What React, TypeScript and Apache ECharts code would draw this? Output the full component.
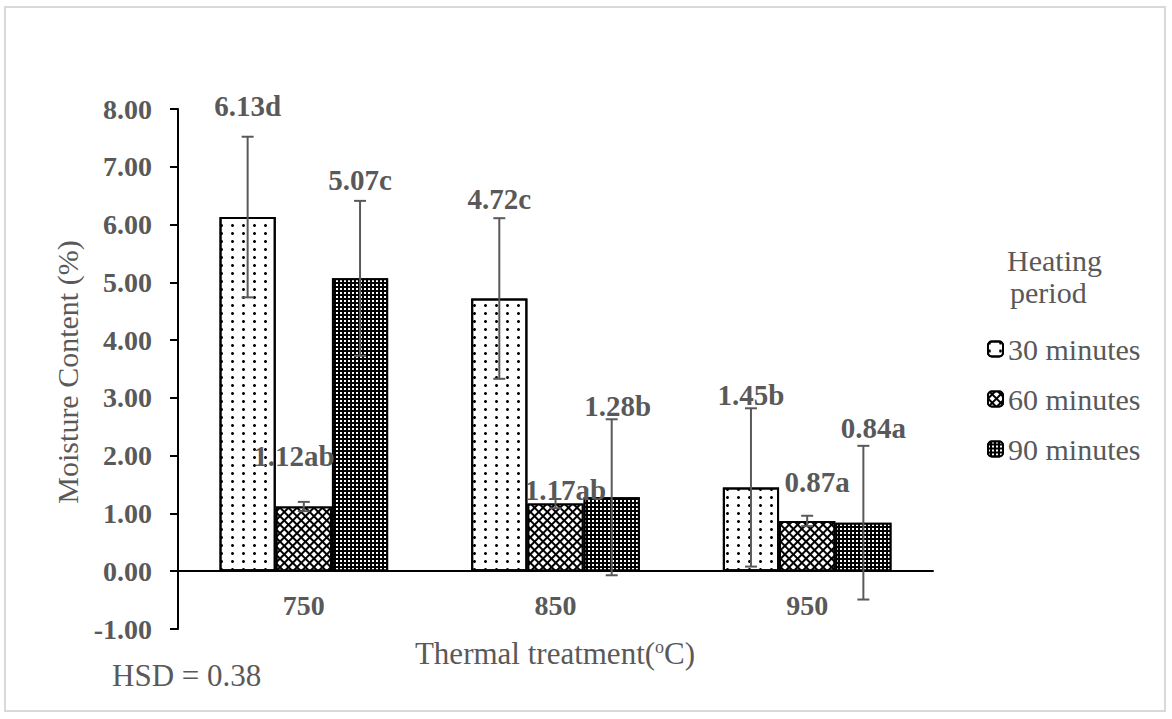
import React, { useEffect, useRef } from "react";
import * as echarts from "echarts";

const categories = ["750", "850", "950"];
const seriesNames = ["30 minutes", "60 minutes", "90 minutes"];
const mean30 = [6.13, 4.72, 1.45];
const mean60 = [1.12, 1.17, 0.87];
const mean90 = [5.07, 1.28, 0.84];
const err30 = [1.39, 1.39, 1.37];
const err60 = [0.08, 0.08, 0.09];
const err90 = [1.34, 1.35, 1.33];
const letters30 = ["d", "c", "b"];
const letters60 = ["ab", "ab", "a"];
const letters90 = ["c", "b", "a"];
const yMin = -1;
const yMax = 8;
const yStep = 1;
const hsdText = "HSD = 0.38";

const TEXT = "#595959";
const FONT = "'Liberation Serif', 'Times New Roman', serif";

const GRID_TOP = 109;
const GRID_BOTTOM = 90;
const GRID_H = 719 - GRID_TOP - GRID_BOTTOM;

// label offsets in pixels (layout only)
const labelOffsets = [
  [[0, -92], [0, -80], [0, -73]],
  [[-10, -31], [10, 6], [10, -19]],
  [[0, -79], [6, -72], [10, -75]],
];

const decals = [
  {
    symbol: "circle",
    symbolSize: 1,
    color: "#000",
    dashArrayX: [2.5, 7.5],
    dashArrayY: [2.5, 4.5],
  },
  {
    symbol: "rect",
    symbolSize: 1,
    color: "#fff",
    dashArrayX: [3.5, 1.2],
    dashArrayY: [3.5, 1.2],
    rotation: Math.PI / 4,
  },
  {
    symbol: "rect",
    symbolSize: 1,
    color: "#fff",
    dashArrayX: [2, 2],
    dashArrayY: [2, 1.5],
  },
];
const fills = ["#fff", "#000", "#000"];

export default function App() {
  const ref = useRef<HTMLDivElement>(null);
  useEffect(() => {
    if (!ref.current) return;
    const chart = echarts.init(ref.current, null, { renderer: "svg" });
    const means = [mean30, mean60, mean90];
    const errs = [err30, err60, err90];
    const letters = [letters30, letters60, letters90];

    const barSeries = means.map((vals, s) => ({
      name: seriesNames[s],
      type: "bar",
      barGap: "0%",
      barCategoryGap: "33%",
      itemStyle: {
        color: fills[s],
        borderColor: "#000",
        borderWidth: 2,
        decal: decals[s],
      },
      data: vals.map((v, i) => ({
        value: v,
        label: {
          show: true,
          position: "top",
          offset: labelOffsets[s][i],
          formatter: v.toFixed(2) + letters[s][i],
          fontFamily: FONT,
          fontWeight: "bold",
          fontSize: 29,
          color: TEXT,
        },
      })),
      z: 2,
    }));

    const errData: number[][] = [];
    means.forEach((vals, s) =>
      vals.forEach((v, i) => errData.push([i, v, errs[s][i], s]))
    );

    const errSeries = {
      type: "custom",
      name: "err",
      z: 5,
      clip: false,
      encode: { x: 0, y: 1 },
      data: errData,
      renderItem: (params: any, api: any) => {
        const c = api.value(0);
        const m = api.value(1);
        const e = api.value(2);
        const s = api.value(3);
        const band = api.size([1, 0])[0];
        const bw = (band * (1 - 0.33)) / 3;
        const x = api.coord([c, m])[0] + (s - 1) * bw;
        const yT = api.coord([c, m + e])[1];
        const yB = api.coord([c, m - e])[1];
        const st = { stroke: "#595959", lineWidth: 2 };
        const cap = 6;
        return {
          type: "group",
          children: [
            { type: "line", shape: { x1: x, y1: yT, x2: x, y2: yB }, style: st },
            { type: "line", shape: { x1: x - cap, y1: yT, x2: x + cap, y2: yT }, style: st },
            { type: "line", shape: { x1: x - cap, y1: yB, x2: x + cap, y2: yB }, style: st },
          ],
        };
      },
    };

    // place the category axis at value 0
    const zeroOffset = -((0 - yMin) / (yMax - yMin)) * GRID_H;

    chart.setOption({
      animation: false,
      backgroundColor: "#fff",
      grid: { left: 178, right: 239, top: GRID_TOP, bottom: GRID_BOTTOM, containLabel: false },
      xAxis: {
        type: "category",
        data: categories,
        offset: zeroOffset,
        axisLine: { onZero: false, lineStyle: { color: "#000", width: 2 } },
        axisTick: { alignWithLabel: true, length: 6, lineStyle: { color: "#000", width: 2 } },
        axisLabel: {
          margin: 20,
          fontFamily: FONT,
          fontWeight: "bold",
          fontSize: 28,
          color: TEXT,
        },
      },
      yAxis: {
        type: "value",
        min: yMin,
        max: yMax,
        interval: yStep,
        splitLine: { show: false },
        axisLine: { show: true, lineStyle: { color: "#000", width: 2 } },
        axisTick: { show: true, length: 8, lineStyle: { color: "#000", width: 2 } },
        axisLabel: {
          margin: 26,
          fontFamily: FONT,
          fontWeight: "bold",
          fontSize: 28,
          color: TEXT,
          formatter: (v: number) => v.toFixed(2),
        },
      },
      legend: {
        data: seriesNames,
        orient: "vertical",
        left: 982,
        top: 329,
        itemWidth: 15,
        itemHeight: 15,
        itemGap: 20,
        itemStyle: { borderColor: "#000", borderWidth: 2 },
        textStyle: { fontFamily: FONT, fontSize: 30, color: TEXT, lineHeight: 30 },
      },
      graphic: [
        {
          type: "rect",
          shape: { x: 5, y: 7, width: 1160, height: 704 },
          style: { fill: "none", stroke: "#d9d9d9", lineWidth: 2 },
          silent: true,
        },
        {
          type: "text",
          x: 67,
          y: 372,
          rotation: Math.PI / 2,
          style: {
            text: "Moisture Content (%)",
            fontFamily: FONT,
            fontSize: 30,
            fill: TEXT,
            align: "center",
            verticalAlign: "middle",
          },
        },
        {
          type: "text",
          x: 555,
          y: 653,
          style: {
            text: "Thermal treatment({s|o}C)",
            fontFamily: FONT,
            fontSize: 31,
            fill: TEXT,
            align: "center",
            verticalAlign: "middle",
            rich: {
              s: { fontFamily: FONT, fontSize: 18, fill: TEXT, verticalAlign: "top", padding: [0, 0, 12, 0] },
            },
          },
        },
        {
          type: "text",
          x: 112,
          y: 675,
          style: {
            text: hsdText,
            fontFamily: FONT,
            fontSize: 31,
            fill: TEXT,
            align: "left",
            verticalAlign: "middle",
          },
        },
        {
          type: "text",
          x: 1007,
          y: 260,
          style: { text: "Heating", fontFamily: FONT, fontSize: 30, fill: TEXT, align: "left", verticalAlign: "middle" },
        },
        {
          type: "text",
          x: 1010,
          y: 292,
          style: { text: "period", fontFamily: FONT, fontSize: 30, fill: TEXT, align: "left", verticalAlign: "middle" },
        },
      ],
      series: [...barSeries, errSeries],
    });
    return () => chart.dispose();
  }, []);
  return (
    <div
      ref={ref}
      style={{ position: "fixed", left: 0, top: 0, width: 1172, height: 719, background: "#fff" }}
    />
  );
}
